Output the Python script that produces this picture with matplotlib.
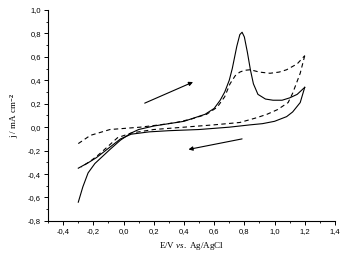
import matplotlib
matplotlib.use("Agg")
import matplotlib.pyplot as plt
from matplotlib.ticker import MultipleLocator, FuncFormatter

plt.rcParams["mathtext.fontset"] = "custom"
plt.rcParams["mathtext.rm"] = "Liberation Serif"
plt.rcParams["mathtext.it"] = "Liberation Serif:italic"
plt.rcParams["mathtext.bf"] = "Liberation Serif:bold"

# Solid CV: forward (anodic) and reverse scans
solid_fwd_E = [-0.30, -0.27, -0.235, -0.19, -0.14, -0.09, -0.02, 0.05, 0.10, 0.20, 0.30, 0.40, 0.47,
               0.54, 0.60, 0.64, 0.67, 0.70, 0.72, 0.75, 0.77, 0.785, 0.80, 0.82, 0.84, 0.86, 0.89,
               0.94, 0.99, 1.05, 1.10, 1.15, 1.20]
solid_fwd_j = [-0.64, -0.51, -0.39, -0.31, -0.25, -0.19, -0.11, -0.05, -0.02, 0.01, 0.03, 0.05, 0.08,
               0.11, 0.16, 0.23, 0.30, 0.40, 0.50, 0.69, 0.79, 0.81, 0.77, 0.64, 0.49, 0.37, 0.28,
               0.24, 0.23, 0.23, 0.25, 0.28, 0.34]
solid_rev_E = [1.20, 1.17, 1.12, 1.08, 1.00, 0.92, 0.84, 0.70, 0.50, 0.30, 0.17, 0.05, -0.02,
               -0.08, -0.13, -0.18, -0.23, -0.30]
solid_rev_j = [0.34, 0.21, 0.13, 0.09, 0.05, 0.03, 0.02, 0.00, -0.02, -0.03, -0.04, -0.06, -0.10,
               -0.16, -0.21, -0.26, -0.30, -0.35]

# Dashed CV
dash_fwd_E = [-0.30, -0.22, -0.09, 0.11, 0.24, 0.35, 0.45, 0.55, 0.62, 0.67, 0.705, 0.74, 0.77,
              0.80, 0.84, 0.90, 0.97, 1.03, 1.08, 1.15, 1.20]
dash_fwd_j = [-0.14, -0.07, -0.02, 0.00, 0.02, 0.04, 0.07, 0.11, 0.17, 0.26, 0.37, 0.44, 0.47,
              0.485, 0.49, 0.47, 0.46, 0.47, 0.49, 0.54, 0.61]
dash_rev_E = [1.20, 1.17, 1.12, 1.09, 1.02, 0.95, 0.88, 0.77, 0.60, 0.40, 0.20, 0.05, -0.04,
              -0.10, -0.17, -0.22, -0.28]
dash_rev_j = [0.61, 0.46, 0.29, 0.21, 0.15, 0.11, 0.08, 0.04, 0.02, 0.00, -0.02, -0.05, -0.09,
              -0.16, -0.24, -0.29, -0.34]

# Scan-direction arrows (start, end)
arrow_fwd = [(0.14, 0.205), (0.46, 0.385)]
arrow_rev = [(0.785, -0.10), (0.43, -0.19)]

fig = plt.figure(figsize=(3.46, 2.56), dpi=100)
ax = fig.add_axes([0.139, 0.137, 0.829, 0.824])

lw = 0.8
ax.plot(solid_fwd_E, solid_fwd_j, color="black", lw=lw)
ax.plot(solid_rev_E, solid_rev_j, color="black", lw=lw)
ax.plot(dash_fwd_E, dash_fwd_j, color="black", lw=lw, linestyle=(0, (4, 3)))
ax.plot(dash_rev_E, dash_rev_j, color="black", lw=lw, linestyle=(0, (4, 3)))

for (s, e) in (arrow_fwd, arrow_rev):
    ax.annotate("", xy=e, xytext=s,
                arrowprops=dict(arrowstyle="-|>", color="black", lw=0.8,
                                mutation_scale=6, shrinkA=0, shrinkB=0))

ax.set_xlim(-0.5, 1.4)
ax.set_ylim(-0.8, 1.0)
ax.spines["top"].set_visible(False)
ax.spines["right"].set_visible(False)
for sp in ("left", "bottom"):
    ax.spines[sp].set_linewidth(0.8)

ax.xaxis.set_major_locator(MultipleLocator(0.2))
ax.xaxis.set_minor_locator(MultipleLocator(0.1))
ax.yaxis.set_major_locator(MultipleLocator(0.2))
ax.yaxis.set_minor_locator(MultipleLocator(0.1))

fmt = FuncFormatter(lambda v, p: ("%.1f" % v).replace(".", ",").replace("-0,0", "0,0"))
ax.xaxis.set_major_formatter(fmt)
ax.yaxis.set_major_formatter(fmt)

ax.tick_params(which="major", direction="out", length=3, width=0.7, labelsize=5.5, pad=2)
ax.tick_params(which="minor", direction="out", length=1.7, width=0.6)
for lab in ax.get_xticklabels() + ax.get_yticklabels():
    lab.set_family("Liberation Sans")

ax.set_xlabel(r"E/V $\mathit{vs.}$ Ag/AgCl", family="Liberation Serif", fontsize=6.5, labelpad=4)
ax.set_ylabel(r"j / mA cm$^{\mathbf{-2}}$", family="Liberation Serif", fontsize=6.5, labelpad=5)

fig.savefig("out.png", dpi=100)
